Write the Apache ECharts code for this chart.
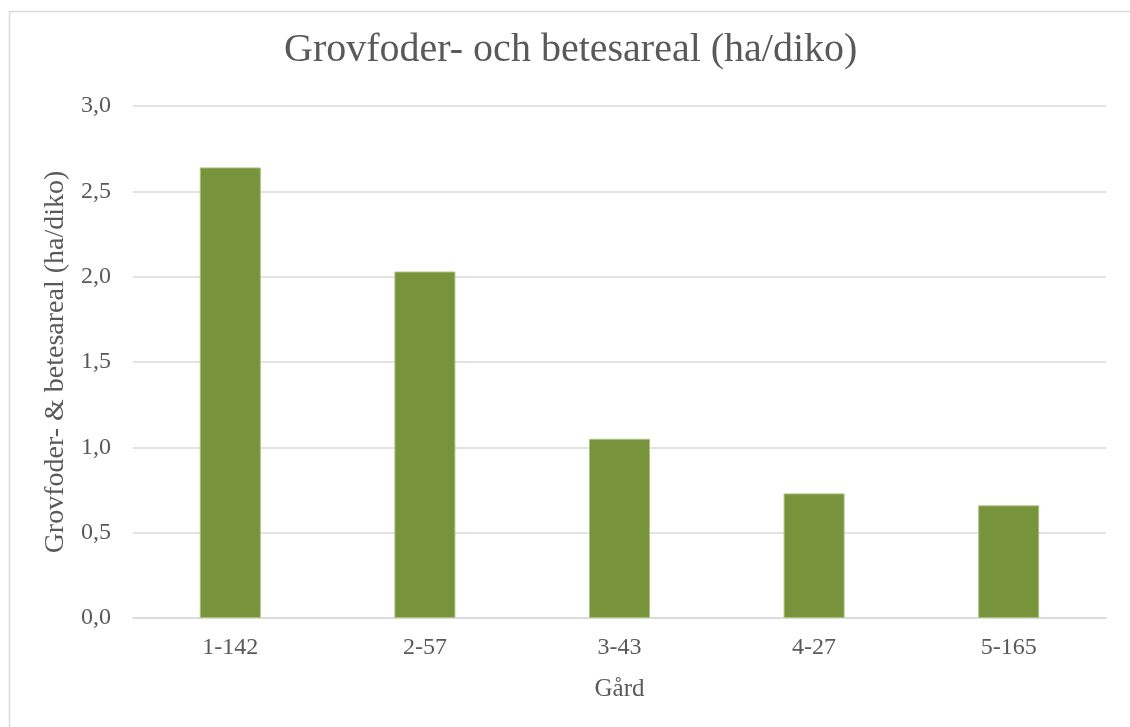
<!DOCTYPE html>
<html><head><meta charset="utf-8">
<script src="https://cdn.jsdelivr.net/npm/echarts@6/dist/echarts.min.js"></script>
<style>html,body{margin:0;padding:0;background:#fff}#c{width:1130px;height:727px}</style>
</head><body><div id="c"></div>
<script>
var categories = ['1-142', '2-57', '3-43', '4-27', '5-165'];
var values = [2.64, 2.03, 1.05, 0.73, 0.66];
var yTicks = [0, 0.5, 1.0, 1.5, 2.0, 2.5, 3.0];
var titleText = 'Grovfoder- och betesareal (ha/diko)';
var yName = 'Grovfoder- & betesareal (ha/diko)';
var xName = 'Gård';

var FONT = '"Liberation Serif", serif';
var chart = echarts.init(document.getElementById('c'), null, {renderer: 'canvas'});
chart.setOption({
  animation: false,
  backgroundColor: '#fff',
  graphic: [{
    type: 'rect', left: 7, top: 9, shape: {width: 1140, height: 740},
    style: {fill: 'none', stroke: '#d9d9d9', lineWidth: 1.5}, silent: true
  }, {
    type: 'text', left: 284, top: 30, silent: true,
    style: {text: titleText, font: '40px "Liberation Serif", serif', fill: '#595959'}
  }],
  grid: {left: 133, right: 24, top: 106, bottom: 109, containLabel: false},
  xAxis: {
    type: 'category', data: categories,
    name: xName, nameLocation: 'middle', nameGap: 59,
    nameTextStyle: {fontFamily: FONT, fontSize: 25, color: '#595959'},
    axisLine: {show: true, lineStyle: {color: '#d9d9d9', width: 1.5}},
    axisTick: {show: false},
    axisLabel: {fontFamily: FONT, fontSize: 24, color: '#595959', margin: 18,
      formatter: function (v) { return v; }}
  },
  yAxis: {
    type: 'value', min: 0, max: 3, interval: 0.5,
    name: yName, nameLocation: 'middle', nameGap: 62,
    nameTextStyle: {fontFamily: FONT, fontSize: 28, color: '#595959'},
    axisLine: {show: false}, axisTick: {show: false},
    splitLine: {lineStyle: {color: '#d9d9d9', width: 1.5}},
    axisLabel: {fontFamily: FONT, fontSize: 24, color: '#595959', margin: 22,
      formatter: function (v) { return v.toFixed(1).replace('.', ','); }}
  },
  series: [{
    type: 'bar', data: values, barWidth: 61,
    itemStyle: {color: '#77933c', borderColor: '#a9c27c', borderWidth: 1}
  }]
});
</script></body></html>
